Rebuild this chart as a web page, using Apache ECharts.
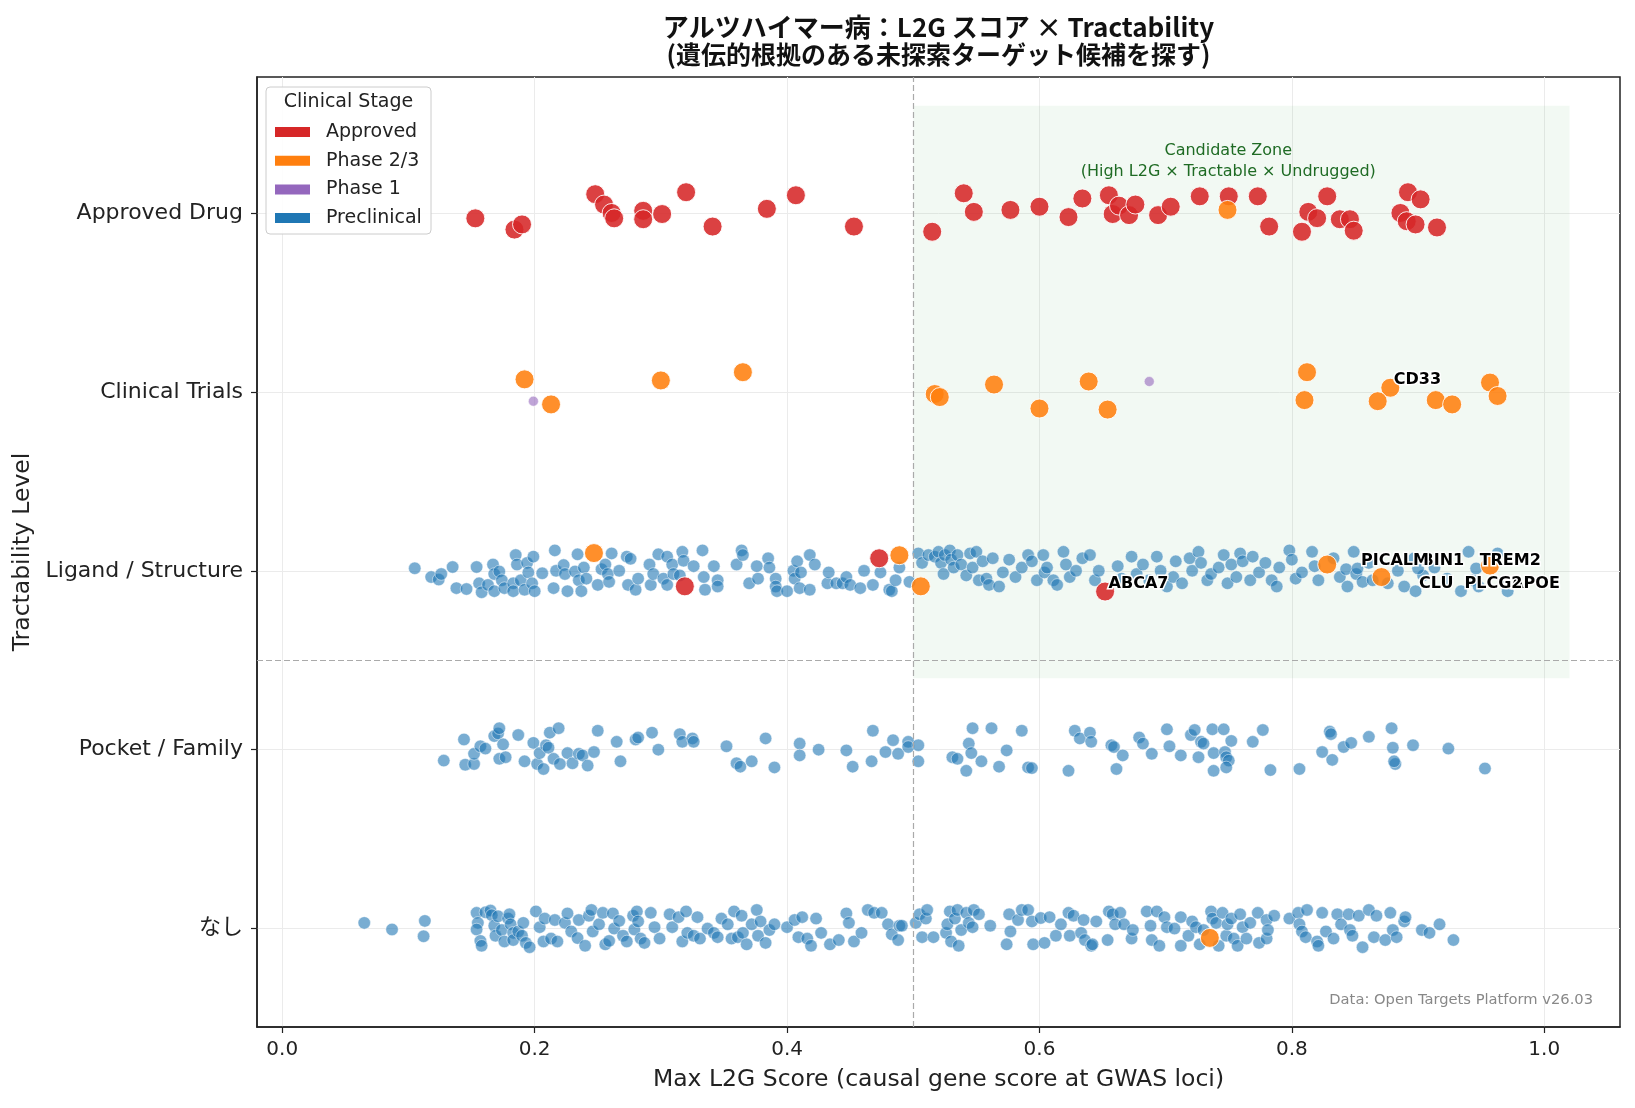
<!DOCTYPE html>
<html>
<head>
<meta charset="utf-8">
<title>アルツハイマー病：L2G スコア × Tractability</title>
<script src="https://cdn.jsdelivr.net/npm/echarts@6.0.0/dist/echarts.min.js"></script>
<style>
  html, body { margin: 0; padding: 0; background: #fff; }
  #chart { width: 1635px; height: 1108px; }
</style>
</head>
<body>
<div id="chart"></div>
<script>
// Tractability levels, bottom (0) to top (4)
const tractLevels = ['なし', 'Pocket / Family', 'Ligand / Structure', 'Clinical Trials', 'Approved Drug'];
const xTicks = [0, 0.2, 0.4, 0.6, 0.8, 1.0];
const stageNames = ['Approved', 'Phase 2/3', 'Phase 1', 'Preclinical'];

// points as [max L2G score, vertical jitter]
const approvedAtApproved = [
  [0.153,-0.03],[0.184,-0.093],[0.190,-0.064],[0.248,0.105],[0.255,0.047],[0.261,0],[0.263,-0.03],
  [0.286,0.012],[0.286,-0.035],[0.301,-0.006],[0.320,0.116],[0.341,-0.076],[0.384,0.023],[0.407,0.099],
  [0.453,-0.076],[0.515,-0.105],[0.540,0.110],[0.548,0.006],[0.577,0.017],[0.600,0.035],[0.623,-0.023],
  [0.634,0.081],[0.655,0.099],[0.658,-0.006],[0.663,0.041],[0.671,-0.012],[0.676,0.047],[0.694,-0.012],
  [0.704,0.035],[0.727,0.093],[0.750,0.093],[0.773,0.093],[0.782,-0.076],[0.808,-0.105],[0.813,0.006],
  [0.820,-0.029],[0.828,0.093],[0.838,-0.035],[0.846,-0.035],[0.849,-0.099],[0.886,0.000],[0.892,0.116],
  [0.891,-0.046],[0.898,-0.064],[0.902,0.076],[0.915,-0.081]
];
const approvedAtLigand = [[0.319,-0.087],[0.473,0.070],[0.652,-0.116]];

const phase23AtApproved = [[0.749,0.017]];
const phase23AtClinical = [
  [0.192,0.070],[0.213,-0.070],[0.300,0.064],[0.365,0.110],[0.517,-0.012],[0.521,-0.029],[0.564,0.041],
  [0.600,-0.093],[0.639,0.058],[0.654,-0.099],[0.812,0.110],[0.810,-0.046],[0.878,0.023],[0.868,-0.052],
  [0.914,-0.046],[0.927,-0.070],[0.957,0.052],[0.963,-0.023]
];
const phase23AtLigand = [[0.247,0.099],[0.489,0.087],[0.506,-0.087],[0.828,0.035],[0.871,-0.035],[0.957,0.029]];
const phase23AtNone = [[0.735,-0.052]];

const phase1AtClinical = [[0.199,-0.052],[0.687,0.058]];

const preclinicalAtLigand = [
  [0.105,0.014],[0.118,-0.035],[0.124,-0.049],[0.126,-0.018],[0.135,0.021],[0.138,-0.097],[0.146,-0.102],
  [0.154,0.021],[0.156,-0.07],[0.158,-0.12],[0.163,-0.079],[0.167,0.035],[0.168,-0.018],[0.168,-0.114],
  [0.172,-0.004],[0.174,-0.053],[0.176,-0.097],[0.183,-0.07],[0.185,0.088],[0.186,0.035],[0.183,-0.114],
  [0.189,-0.053],[0.192,-0.106],[0.194,0.044],[0.195,-0.009],[0.198,-0.07],[0.199,0.079],[0.2,-0.114],
  [0.206,-0.014],[0.215,-0.097],[0.216,0.114],[0.217,0],[0.223,0.032],[0.224,-0.018],[0.226,-0.114],
  [0.232,-0.004],[0.234,0.092],[0.235,-0.053],[0.237,-0.114],[0.239,0.018],[0.241,-0.044],[0.25,-0.079],
  [0.253,0.009],[0.256,0.035],[0.258,-0.018],[0.259,-0.062],[0.261,0.097],[0.267,0],[0.273,0.079],
  [0.274,-0.079],[0.276,0.067],[0.28,-0.106],[0.282,-0.044],[0.291,0.035],[0.292,-0.079],[0.294,-0.018],
  [0.298,0.092],[0.302,-0.044],[0.305,0.079],[0.305,-0.079],[0.309,0.035],[0.31,-0.018],[0.315,-0.026],
  [0.317,0.106],[0.318,0.056],[0.326,0.026],[0.333,0.114],[0.334,-0.035],[0.335,-0.106],[0.342,0.026],
  [0.345,-0.053],[0.345,-0.088],[0.36,0.035],[0.364,0.114],[0.365,0.088],[0.37,-0.07],[0.376,0.026],
  [0.377,-0.044],[0.385,0.07],[0.386,0.018],[0.391,-0.044],[0.391,-0.088],[0.392,-0.114],[0.4,-0.114],
  [0.405,0],[0.406,-0.044],[0.408,0.053],[0.41,-0.097],[0.411,-0.009],[0.418,0.088],[0.418,-0.106],
  [0.422,0.035],[0.432,-0.07],[0.433,-0.009],[0.439,-0.07],[0.444,-0.07],[0.447,-0.035],[0.45,-0.079],
  [0.458,-0.097],[0.461,0],[0.468,-0.079],[0.474,-0.009],[0.481,-0.106],[0.483,-0.114],[0.486,-0.053],
  [0.489,0.018],[0.497,-0.062],
  [0.504,0.097],[0.507,0.044],[0.512,0.088],[0.517,0.079],[0.520,0.106],[0.522,0.044],[0.524,-0.018],
  [0.525,0.088],[0.529,0.114],[0.530,0.062],[0.532,0.018],[0.535,0.088],[0.538,0.035],[0.542,-0.026],
  [0.545,0.097],[0.547,0.018],[0.550,0.106],[0.552,-0.053],[0.555,0.053],[0.558,-0.044],[0.560,-0.079],
  [0.563,0.070],[0.568,-0.088],[0.571,-0.009],[0.576,0.062],[0.581,-0.035],[0.586,0.018],[0.591,0.088],
  [0.594,0.053],[0.598,-0.053],[0.603,0.088],[0.604,-0.009],[0.606,0.018],[0.611,-0.053],[0.614,-0.079],
  [0.619,0.106],[0.621,0.035],[0.624,-0.035],[0.629,0],[0.634,0.070],[0.640,0.088],[0.644,-0.053],
  [0.647,0],[0.662,0.026],[0.665,-0.044],[0.673,0.079],[0.677,-0.018],[0.682,0.035],[0.687,-0.053],
  [0.693,0.079],[0.696,0],[0.701,-0.088],[0.706,-0.035],[0.708,0.053],[0.713,-0.070],[0.719,0.070],
  [0.721,0],[0.726,0.106],[0.728,0.044],[0.733,-0.053],[0.736,-0.018],[0.742,0.018],[0.746,0.088],
  [0.749,-0.070],[0.752,0.035],[0.756,-0.035],[0.759,0.097],[0.761,0.053],[0.767,-0.053],[0.769,0.079],
  [0.774,-0.009],[0.779,0.044],[0.784,-0.053],[0.788,-0.088],[0.790,0.018],[0.798,0.114],[0.800,0.062],
  [0.803,-0.044],[0.808,-0.009],[0.816,0.106],[0.818,0.026],[0.821,-0.053],[0.833,0.070],[0.838,-0.035],
  [0.843,0.009],[0.844,-0.088],[0.849,0.106],[0.851,-0.018],[0.856,-0.062],[0.861,0.044],[0.864,-0.053],
  [0.876,-0.070],[0.884,0],[0.889,-0.088],[0.897,0.070],[0.904,-0.026],[0.913,0.018],[0.923,-0.044],
  [0.940,0.106],[0.943,-0.053],[0.948,-0.088],[0.963,0.097],[0.969,-0.070]
];

const preclinicalAtPocket = [
  [0.128,-0.061],[0.144,0.057],[0.145,-0.084],[0.152,-0.080],[0.152,-0.023],[0.157,0.019],[0.161,0.006],
  [0.168,0.076],[0.171,0.091],[0.172,0.12],[0.172,-0.051],[0.175,0.030],[0.177,-0.042],[0.187,0.082],
  [0.192,-0.065],[0.199,0.038],[0.202,-0.080],[0.204,-0.019],[0.207,-0.108],[0.209,0.025],[0.211,0.011],
  [0.212,0.095],[0.215,-0.051],[0.219,0.12],[0.220,-0.080],[0.226,-0.019],[0.230,-0.076],[0.235,-0.023],
  [0.238,-0.032],[0.242,-0.089],[0.247,-0.013],[0.250,0.106],[0.265,0.044],[0.268,-0.065],[0.280,0.057],
  [0.282,0.068],[0.293,0.095],[0.298,0],[0.315,0.087],[0.317,0.044],[0.325,0.063],[0.326,0.044],
  [0.352,0.019],[0.360,-0.076],[0.363,-0.095],[0.372,-0.065],[0.383,0.063],[0.390,-0.099],[0.410,0.034],
  [0.410,-0.032],[0.425,0],[0.447,-0.004],[0.452,-0.095],[0.467,-0.065],[0.468,0.106],[0.478,-0.013],
  [0.484,0.053],[0.488,-0.023],[0.496,0.044],[0.496,0.015],[0.504,0.025],[0.504,-0.065],[0.531,-0.042],
  [0.535,-0.051],[0.542,-0.118],[0.544,0.034],[0.546,-0.019],[0.547,0.12],[0.554,-0.065],[0.562,0.12],
  [0.568,-0.095],[0.574,-0.004],[0.586,0.106],[0.591,-0.099],[0.594,-0.103],[0.623,-0.118],[0.628,0.106],
  [0.632,0.063],[0.640,0.095],[0.641,0.044],[0.657,0.025],[0.659,0.015],[0.661,-0.108],[0.666,-0.032],
  [0.679,0.068],[0.682,0.034],[0.689,-0.023],[0.701,0.114],[0.703,0.019],[0.712,-0.032],[0.720,0.082],
  [0.723,0.110],[0.726,-0.042],[0.728,0.044],[0.730,0.034],[0.737,0.114],[0.738,-0.019],[0.738,-0.118],
  [0.746,0.114],[0.747,-0.013],[0.748,-0.042],[0.750,-0.061],[0.752,0.049],[0.748,-0.099],[0.769,0.044],
  [0.777,0.110],[0.783,-0.114],[0.806,-0.108],[0.824,-0.013],[0.830,0.101],[0.831,0.087],[0.832,-0.057],
  [0.841,0.015],[0.847,0.038],[0.861,0.072],[0.879,0.12],[0.880,0.011],[0.882,-0.080],[0.881,-0.065],
  [0.896,0.025],[0.924,0.006],[0.953,-0.105]
];

const preclinicalAtNone = [
  [0.065,0.032],[0.087,-0.005],[0.113,0.043],[0.112,-0.043],[0.154,0.088],[0.155,0.032],[0.154,-0.005],
  [0.157,-0.069],[0.158,-0.096],[0.161,0.091],[0.165,0.101],[0.166,0.075],[0.168,0.016],[0.169,-0.04],
  [0.171,0.069],[0.174,-0.008],[0.176,-0.072],[0.179,0.056],[0.180,0.08],[0.181,0.024],[0.183,-0.024],
  [0.183,-0.064],[0.187,-0.016],[0.190,-0.04],[0.191,0.032],[0.193,-0.08],[0.196,-0.104],[0.201,0.096],
  [0.204,0.008],[0.207,-0.072],[0.208,0.056],[0.213,-0.056],[0.216,0.048],[0.218,-0.072],[0.224,0.032],
  [0.226,0.085],[0.229,-0.016],[0.234,-0.053],[0.235,0.048],[0.240,-0.096],[0.243,0.072],[0.245,0.104],
  [0.246,-0.016],[0.251,0.024],[0.254,0.088],[0.256,-0.088],[0.259,-0.069],[0.262,0.085],[0.263,0],
  [0.267,0.043],[0.270,-0.04],[0.273,-0.072],[0.278,0.072],[0.279,-0.005],[0.281,0.096],[0.282,0.04],
  [0.284,-0.056],[0.287,-0.08],[0.292,0.088],[0.295,0.008],[0.299,-0.056],[0.307,0.08],[0.309,0.008],
  [0.314,0.064],[0.317,-0.072],[0.320,0.096],[0.321,-0.024],[0.326,-0.04],[0.329,0.064],[0.331,-0.056],
  [0.337,0],[0.342,-0.024],[0.345,-0.048],[0.348,0.056],[0.353,0.024],[0.356,-0.056],[0.358,0.096],
  [0.361,-0.048],[0.364,0.072],[0.365,-0.024],[0.368,-0.088],[0.372,0.024],[0.376,0.104],[0.377,-0.04],
  [0.379,0.04],[0.383,-0.08],[0.386,-0.008],[0.390,0.024],[0.400,0.008],[0.406,0.048],[0.409,-0.048],
  [0.412,0.064],[0.416,-0.056],[0.419,-0.096],[0.423,0.056],[0.427,-0.024],[0.434,-0.088],[0.441,-0.064],
  [0.447,0.085],[0.449,0.032],[0.453,-0.072],[0.459,-0.024],[0.464,0.104],[0.469,0.088],[0.475,0.088],
  [0.480,0.024],[0.483,-0.032],[0.488,-0.064],[0.489,0.016],
  [0.491,0.016],[0.502,0.032],[0.505,0.08],[0.507,-0.048],[0.510,0.056],[0.511,0.104],[0.516,-0.048],
  [0.526,-0.024],[0.527,0.024],[0.529,0.096],[0.530,-0.072],[0.533,0.056],[0.535,0.104],[0.536,-0.096],
  [0.538,-0.008],[0.542,0.088],[0.544,0.032],[0.547,0.008],[0.548,0.104],[0.552,0.08],[0.561,0.016],
  [0.574,-0.088],[0.576,0.08],[0.577,-0.016],[0.583,0.048],[0.586,0.104],[0.591,0.104],[0.594,0.04],
  [0.595,-0.088],[0.601,0.059],[0.604,-0.08],[0.608,0.064],[0.613,-0.04],[0.617,0.024],[0.623,0.088],
  [0.624,-0.04],[0.627,0.072],[0.633,-0.024],[0.635,0.048],[0.636,-0.064],[0.641,-0.096],[0.642,-0.088],
  [0.645,0.04],[0.654,-0.064],[0.655,0.096],[0.658,0.08],[0.660,0.024],[0.664,0.088],[0.667,0.024],
  [0.673,-0.056],[0.674,-0.008],[0.685,0.096],[0.688,0.016],[0.689,-0.064],[0.693,0.096],[0.695,-0.096],
  [0.699,0.064],[0.701,0.008],[0.707,0],[0.712,0.064],[0.712,-0.096],[0.718,-0.04],[0.721,0.04],
  [0.724,0.008],[0.727,-0.088],[0.730,-0.008],[0.736,0.096],[0.737,0.056],[0.740,0.032],[0.742,-0.096],
  [0.745,0.088],[0.748,-0.04],[0.749,0.024],[0.752,0.056],[0.754,-0.056],[0.757,-0.096],[0.759,0.08],
  [0.761,0.008],[0.764,-0.056],[0.767,0.032],[0.773,0.088],[0.774,-0.08],[0.780,0.048],[0.780,-0.056],
  [0.781,-0.008],[0.786,0.072],[0.798,0.056],[0.805,0.088],[0.806,0.024],[0.808,-0.016],[0.811,-0.048],
  [0.812,0.104],[0.820,-0.072],[0.821,-0.096],[0.824,0.088],[0.827,-0.016],[0.833,-0.056],[0.836,0.08],
  [0.839,0.024],[0.845,0.08],[0.846,-0.008],[0.848,-0.04],[0.853,0.072],[0.856,-0.104],[0.861,0.104],
  [0.865,-0.048],[0.867,0.072],[0.874,-0.064],[0.878,0.088],[0.880,-0.008],[0.883,-0.048],[0.889,0.04],
  [0.890,0.064],[0.903,-0.008],[0.909,-0.024],[0.917,0.024],[0.928,-0.064]
];

// annotated genes (later entries are drawn on top)
const geneNames = ['ABCA7', 'CD33', 'BIN1', 'PICALM', 'TREM2', 'CLU', 'APOE', 'PLCG2'];
const geneStage = ['Approved', 'Phase 2/3', 'Preclinical', 'Preclinical', 'Preclinical', 'Preclinical', 'Preclinical', 'Preclinical'];
const geneL2G = [0.652, 0.878, 0.900, 0.852, 0.946, 0.898, 0.971, 0.934];
const geneLevel = [2, 3, 2, 2, 2, 2, 2, 2];
const geneJitter = [-0.116, 0.023, 0.013, 0.013, 0.013, -0.114, -0.114, -0.114];

const latinFont = '"DejaVu Sans", "Noto Sans CJK JP", sans-serif';
const jpFont = '"Noto Sans CJK JP", sans-serif';

function toPoints(rows, level) {
  return rows.map(p => [p[0], level + p[1]]);
}

const genePoints = geneNames.map((n, i) => ({ name: n, value: [geneL2G[i], geneLevel[i] + geneJitter[i]] }));

const approvedData = [].concat(toPoints(approvedAtApproved, 4), toPoints(approvedAtLigand, 2));
const phase23Data = [].concat(toPoints(phase23AtApproved, 4), toPoints(phase23AtClinical, 3),
  toPoints(phase23AtLigand, 2), toPoints(phase23AtNone, 0));
const phase1Data = toPoints(phase1AtClinical, 3);
const preclinicalData = [].concat(toPoints(preclinicalAtLigand, 2), toPoints(preclinicalAtPocket, 1),
  toPoints(preclinicalAtNone, 0), genePoints.filter((g, i) => geneStage[i] === 'Preclinical').map(g => g.value));

const chart = echarts.init(document.getElementById('chart'));

const option = {
  animation: false,
  backgroundColor: '#fff',
  grid: {
    left: 257, right: 15, top: 77, bottom: 81,
    show: true, borderColor: '#222', borderWidth: 1.5, backgroundColor: 'transparent'
  },
  xAxis: {
    type: 'value',
    min: -0.02, max: 1.06,
    name: 'Max L2G Score (causal gene score at GWAS loci)',
    nameLocation: 'middle', nameGap: 41,
    nameTextStyle: { fontFamily: latinFont, fontSize: 23.5, color: '#222' },
    axisLine: { show: true, onZero: false, lineStyle: { color: '#222', width: 1.5 } },
    axisTick: { show: true, length: 6, customValues: xTicks, lineStyle: { color: '#222', width: 1.2 } },
    axisLabel: {
      customValues: xTicks, margin: 13,
      fontFamily: latinFont, fontSize: 20, color: '#222',
      formatter: v => v.toFixed(1)
    },
    splitLine: { show: true, lineStyle: { color: '#ebebeb', width: 1 } }
  },
  yAxis: {
    type: 'value',
    min: -0.55, max: 4.76,
    name: 'Tractability Level',
    nameLocation: 'middle', nameGap: 221, nameRotate: 90,
    nameTextStyle: { fontFamily: latinFont, fontSize: 23.5, color: '#222' },
    axisLine: { show: true, onZero: false, lineStyle: { color: '#222', width: 1.5 } },
    axisTick: { show: true, length: 6, customValues: [0, 1, 2, 3, 4], lineStyle: { color: '#222', width: 1.2 } },
    axisLabel: {
      customValues: [0, 1, 2, 3, 4], margin: 14,
      fontFamily: latinFont, fontSize: 22, color: '#222',
      formatter: v => tractLevels[Math.round(v)]
    },
    splitLine: { show: true, lineStyle: { color: '#ebebeb', width: 1 } }
  },
  legend: {
    data: stageNames,
    orient: 'vertical',
    left: 270, top: 117,
    itemWidth: 35, itemHeight: 10, itemGap: 8.7,
    icon: 'rect',
    selectedMode: false,
    z: 110,
    itemStyle: { opacity: 1, borderWidth: 0 },
    textStyle: { fontFamily: latinFont, fontSize: 19, color: '#222', lineHeight: 20, padding: [0, 0, 0, 11] }
  },
  graphic: [
    { type: 'text', x: 938.5, y: 27, z: 100,
      style: { text: 'アルツハイマー病：L2G スコア × Tractability', font: 'bold 26px ' + jpFont, fill: '#111',
        align: 'center', verticalAlign: 'middle', textAlign: 'center', textVerticalAlign: 'middle' } },
    { type: 'text', x: 938.5, y: 54, z: 100,
      style: { text: '(遺伝的根拠のある未探索ターゲット候補を探す)', font: 'bold 25px ' + jpFont, fill: '#111',
        align: 'center', verticalAlign: 'middle', textAlign: 'center', textVerticalAlign: 'middle' } },
    { type: 'rect', z: 100,
      shape: { x: 266, y: 87, width: 165, height: 147, r: 4 },
      style: { fill: 'rgba(255,255,255,0.9)', stroke: '#cccccc', lineWidth: 1 } },
    { type: 'text', x: 348.5, y: 102, z: 101,
      style: { text: 'Clinical Stage', font: '19px ' + latinFont, fill: '#222',
        align: 'center', verticalAlign: 'middle', textAlign: 'center', textVerticalAlign: 'middle' } },
    { type: 'text', x: 1593, y: 1000, z: 100,
      style: { text: 'Data: Open Targets Platform v26.03', font: '14.7px ' + latinFont, fill: '#888',
        align: 'right', verticalAlign: 'middle', textAlign: 'right', textVerticalAlign: 'middle' } }
  ],
  series: [
    {
      name: 'guides', type: 'scatter', data: [], z: 1, silent: true,
      markArea: {
        silent: true,
        itemStyle: { color: 'rgba(76,175,80,0.07)' },
        data: [[{ coord: [0.5, 1.4] }, { coord: [1.02, 4.6] }]]
      },
      markLine: {
        silent: true, symbol: 'none', label: { show: false },
        lineStyle: { color: '#aaaaaa', type: [6, 3], width: 1.2 },
        data: [{ xAxis: 0.5 }, { yAxis: 1.5 }]
      }
    },
    {
      name: 'Preclinical', type: 'scatter', z: 2, data: preclinicalData,
      symbolSize: 12.5,
      itemStyle: { color: '#1f77b4', opacity: 0.6, borderColor: '#fff', borderWidth: 0.8 }
    },
    {
      name: 'Phase 1', type: 'scatter', z: 3, data: phase1Data,
      symbolSize: 10,
      itemStyle: { color: '#9467bd', opacity: 0.6, borderColor: '#fff', borderWidth: 0.8 }
    },
    {
      name: 'Approved', type: 'scatter', z: 4, data: approvedData,
      symbolSize: 19,
      itemStyle: { color: '#d62728', opacity: 0.88, borderColor: '#fff', borderWidth: 1 }
    },
    {
      name: 'Phase 2/3', type: 'scatter', z: 5, data: phase23Data,
      symbolSize: 19,
      itemStyle: { color: '#ff7f0e', opacity: 0.88, borderColor: '#fff', borderWidth: 1 }
    },
    {
      name: 'geneLabels', type: 'scatter', z: 6, silent: true,
      data: genePoints,
      symbolSize: 1,
      itemStyle: { color: 'rgba(0,0,0,0)' },
      labelLayout: { hideOverlap: false },
      label: {
        show: true, formatter: p => p.name, opacity: 1,
        position: [4, -7], align: 'left', verticalAlign: 'middle',
        fontFamily: latinFont, fontWeight: 'bold', fontSize: 16, color: '#000',
        textBorderColor: '#fff', textBorderWidth: 3
      }
    },
    {
      name: 'zoneLabel', type: 'scatter', z: 6, silent: true,
      data: [[0.75, 4.287]],
      symbolSize: 1,
      itemStyle: { color: 'rgba(0,0,0,0)' },
      label: {
        show: true, opacity: 1,
        formatter: 'Candidate Zone\n(High L2G × Tractable × Undrugged)',
        position: [0, 0], align: 'center', verticalAlign: 'middle',
        fontFamily: latinFont, fontSize: 16, lineHeight: 21, color: '#1f6b24',
        textBorderWidth: 0
      }
    }
  ]
};

chart.setOption(option);
</script>
</body>
</html>
